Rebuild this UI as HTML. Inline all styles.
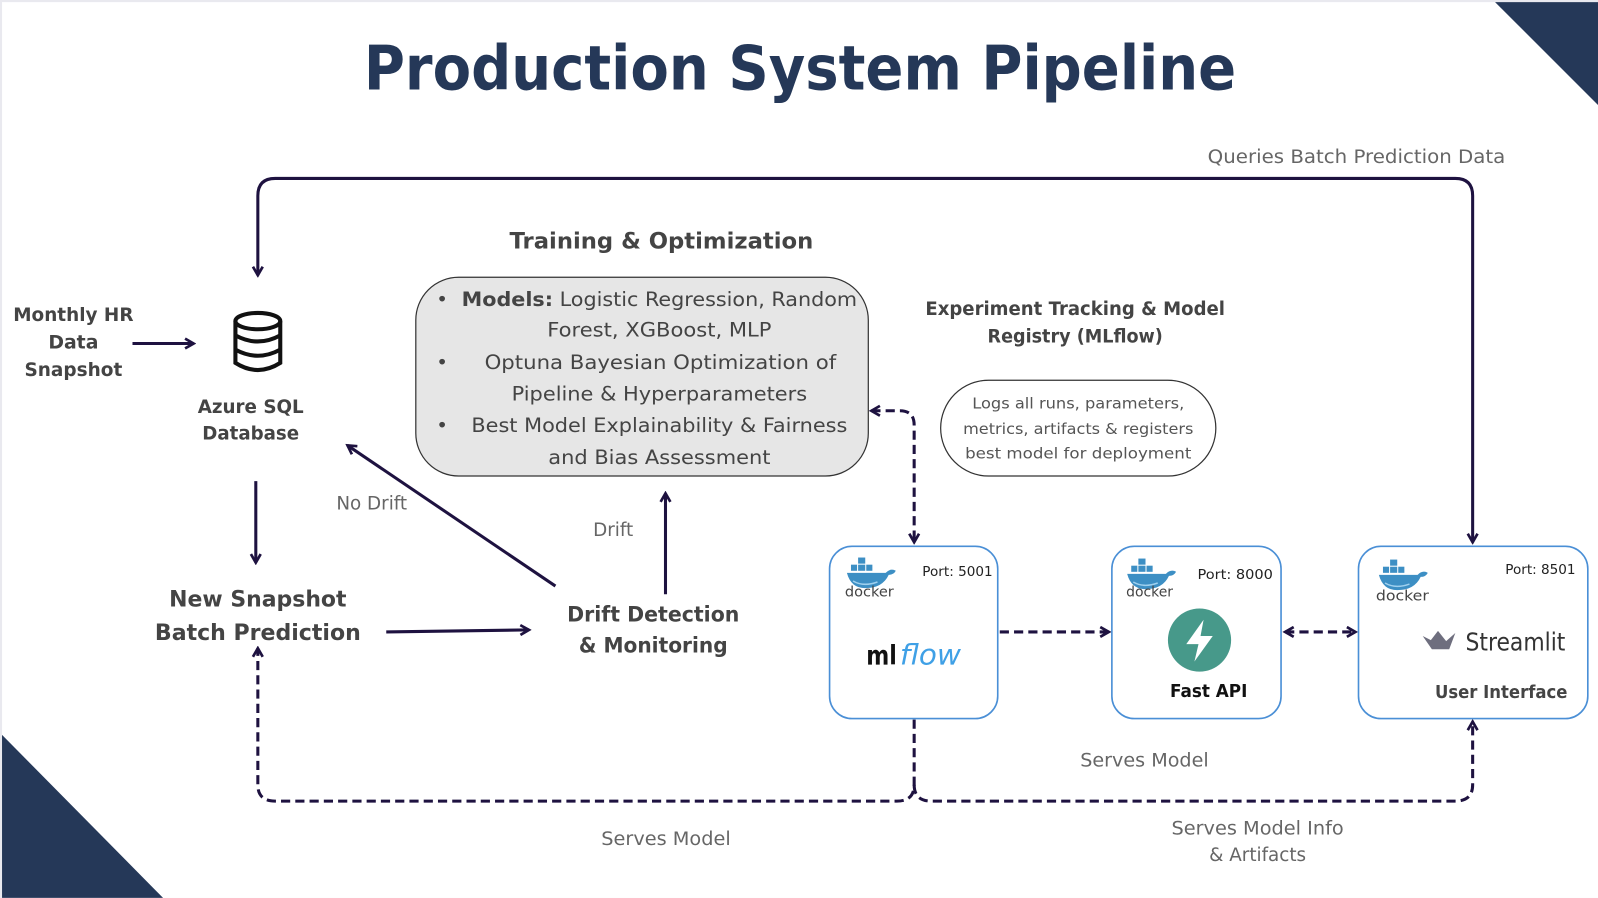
<!DOCTYPE html>
<html><head><meta charset="utf-8"><style>
html,body{margin:0;padding:0;background:#e9e9ef;}
svg{display:block;}
text{font-family:"DejaVu Sans","Liberation Sans",sans-serif;}
</style></head><body>
<svg width="1598" height="898" viewBox="0 0 1568 881" xmlns="http://www.w3.org/2000/svg">
<defs>
<marker id="a" viewBox="0 0 10 10" refX="8" refY="5" markerWidth="4" markerHeight="4" orient="auto-start-reverse">
<path d="M1,1 L8,5 L1,9" fill="none" stroke="#1e1240" stroke-width="2.2"/>
</marker>
<g id="dk">
<rect x="11" y="-2" width="7" height="6" fill="#3d8fc4"/>
<rect x="4" y="5" width="6" height="6" fill="#3d8fc4"/><rect x="11" y="5" width="7" height="6" fill="#3d8fc4"/><rect x="19" y="5" width="6" height="6" fill="#3d8fc4"/>
<path d="M0,13 H38 Q43,8 48,11 Q46,15 41,15 Q35,28 18,28 Q4,28 0,13 Z" fill="#3d8fc4"/>
<path d="M6,21 Q16,27 30,22" fill="none" stroke="#9fd0ee" stroke-width="1.5"/>
</g>
</defs>
<rect x="2" y="2" width="1566" height="879" fill="#fff"/>
<polygon points="1467,2 1568,2 1568,103" fill="#253858"/>
<polygon points="2,721 2,881 160,881" fill="#253858"/>

<text x="785" y="88" text-anchor="middle" font-size="60" font-weight="bold" fill="#253858" textLength="856" lengthAdjust="spacingAndGlyphs">Production System Pipeline</text>

<text x="1185" y="160" font-size="18" fill="#666" textLength="292" lengthAdjust="spacingAndGlyphs">Queries Batch Prediction Data</text>

<g fill="none" stroke="#1e1240" stroke-width="3">
<path d="M253,270 V192 Q253,175 270,175 H1428 Q1445,175 1445,192 V532" marker-start="url(#a)" marker-end="url(#a)"/>
<path d="M130,337 H190" marker-end="url(#a)"/>
<path d="M251,472 V552" marker-end="url(#a)"/>
<path d="M545,575 L341,437" marker-end="url(#a)"/>
<path d="M653,583 V484" marker-end="url(#a)"/>
<path d="M379,620 L519,618" marker-end="url(#a)"/>
</g>
<g fill="none" stroke="#1e1240" stroke-width="3" stroke-dasharray="9,5">
<path d="M855,403 H883 Q897,403 897,417 V532" marker-start="url(#a)" marker-end="url(#a)"/>
<path d="M981,620 H1088" marker-end="url(#a)"/>
<path d="M1261,620 H1330" marker-start="url(#a)" marker-end="url(#a)"/>
<path d="M897,706 V770 Q897,786 880,786 H270 Q253,786 253,770 V636" marker-end="url(#a)"/>
<path d="M897,770 Q897,786 914,786 H1428 Q1445,786 1445,770 V708" marker-end="url(#a)"/>
</g>

<text x="649" y="244" text-anchor="middle" font-size="22" font-weight="bold" fill="#444" textLength="298" lengthAdjust="spacingAndGlyphs">Training &amp; Optimization</text>
<rect x="408" y="272" width="444" height="195" rx="42" fill="#e6e6e6" stroke="#333" stroke-width="1.2"/>
<g font-size="19.5" fill="#444">
<text x="428" y="300">•</text><text x="428" y="362">•</text><text x="428" y="424">•</text>
<text x="453" y="300" textLength="388" lengthAdjust="spacingAndGlyphs"><tspan font-weight="bold">Models:</tspan> Logistic Regression, Random</text>
<text x="647" y="330" text-anchor="middle" textLength="220" lengthAdjust="spacingAndGlyphs">Forest, XGBoost, MLP</text>
<text x="648" y="362" text-anchor="middle" textLength="345" lengthAdjust="spacingAndGlyphs">Optuna Bayesian Optimization of</text>
<text x="647" y="393" text-anchor="middle" textLength="290" lengthAdjust="spacingAndGlyphs">Pipeline &amp; Hyperparameters</text>
<text x="647" y="424" text-anchor="middle" textLength="369" lengthAdjust="spacingAndGlyphs">Best Model Explainability &amp; Fairness</text>
<text x="647" y="455" text-anchor="middle" textLength="218" lengthAdjust="spacingAndGlyphs">and Bias Assessment</text>
</g>

<g font-size="18" font-weight="bold" fill="#444" text-anchor="middle">
<text x="1055" y="309" textLength="294" lengthAdjust="spacingAndGlyphs">Experiment Tracking &amp; Model</text>
<text x="1055" y="336" textLength="172" lengthAdjust="spacingAndGlyphs">Registry (MLflow)</text>
</g>
<rect x="923" y="373" width="270" height="94" rx="47" fill="#fff" stroke="#333" stroke-width="1.2"/>
<g font-size="15" fill="#555" text-anchor="middle">
<text x="1058" y="401" textLength="208" lengthAdjust="spacingAndGlyphs">Logs all runs, parameters,</text>
<text x="1058" y="426" textLength="226" lengthAdjust="spacingAndGlyphs">metrics, artifacts &amp; registers</text>
<text x="1058" y="450" textLength="222" lengthAdjust="spacingAndGlyphs">best model for deployment</text>
</g>

<g font-size="18.5" font-weight="bold" fill="#444" text-anchor="middle">
<text x="72" y="315" textLength="118" lengthAdjust="spacingAndGlyphs">Monthly HR</text>
<text x="72" y="342">Data</text>
<text x="72" y="369" textLength="96" lengthAdjust="spacingAndGlyphs">Snapshot</text>
<text x="246" y="405" textLength="104" lengthAdjust="spacingAndGlyphs">Azure SQL</text>
<text x="246" y="431" textLength="95" lengthAdjust="spacingAndGlyphs">Database</text>
</g>
<g fill="none" stroke="#111" stroke-width="4">
<ellipse cx="253" cy="315" rx="22" ry="8"/>
<path d="M231,315 V356 Q253,370 275,356 V315"/>
<path d="M231,329 Q253,341 275,329"/>
<path d="M231,343 Q253,355 275,343"/>
</g>

<g font-size="18" fill="#666">
<text x="330" y="500">No Drift</text>
<text x="582" y="526">Drift</text>
<text x="1060" y="752" textLength="126" lengthAdjust="spacingAndGlyphs">Serves Model</text>
<text x="590" y="829" textLength="127" lengthAdjust="spacingAndGlyphs">Serves Model</text>
<text x="1234" y="819" text-anchor="middle" textLength="169" lengthAdjust="spacingAndGlyphs">Serves Model Info</text>
<text x="1234" y="845" text-anchor="middle">&amp; Artifacts</text>
</g>

<g font-size="22" font-weight="bold" fill="#444" text-anchor="middle">
<text x="253" y="595" textLength="174" lengthAdjust="spacingAndGlyphs">New Snapshot</text>
<text x="253" y="628" textLength="202" lengthAdjust="spacingAndGlyphs">Batch Prediction</text>
</g>
<g font-size="20.5" font-weight="bold" fill="#444" text-anchor="middle">
<text x="641" y="610" textLength="169" lengthAdjust="spacingAndGlyphs">Drift Detection</text>
<text x="641" y="640" textLength="146" lengthAdjust="spacingAndGlyphs">&amp; Monitoring</text>
</g>

<g fill="#fff" stroke="#4a8fd6" stroke-width="1.6">
<rect x="814" y="536" width="165" height="169" rx="22"/>
<rect x="1091" y="536" width="166" height="169" rx="22"/>
<rect x="1333" y="536" width="225" height="169" rx="22"/>
</g>
<use href="#dk" x="831" y="549"/>
<use href="#dk" x="1106" y="550"/>
<use href="#dk" x="1353" y="551"/>
<g font-size="14" fill="#444">
<text x="829" y="585" textLength="48" lengthAdjust="spacingAndGlyphs">docker</text>
<text x="1105" y="585" textLength="46" lengthAdjust="spacingAndGlyphs">docker</text>
<text x="1350" y="589" textLength="52" lengthAdjust="spacingAndGlyphs">docker</text>
</g>
<g font-size="13" fill="#222">
<text x="905" y="565" textLength="69" lengthAdjust="spacingAndGlyphs">Port: 5001</text>
<text x="1175" y="568" textLength="74" lengthAdjust="spacingAndGlyphs">Port: 8000</text>
<text x="1477" y="563" textLength="69" lengthAdjust="spacingAndGlyphs">Port: 8501</text>
</g>
<text x="850" y="652" font-size="26" font-weight="bold" fill="#111" textLength="30" lengthAdjust="spacingAndGlyphs">ml</text>
<text x="883" y="652" font-size="28" font-style="italic" fill="#3fa0e6" textLength="60" lengthAdjust="spacingAndGlyphs">flow</text>

<circle cx="1177" cy="628" r="31" fill="#47998a"/>
<polygon points="1181,608 1164,632 1176,632 1172,649 1190,624 1178,624" fill="#fff"/>
<text x="1186" y="684" text-anchor="middle" font-size="17" font-weight="bold" fill="#111" textLength="76" lengthAdjust="spacingAndGlyphs">Fast API</text>

<polygon points="1396,624 1404,628 1411,619 1419,629 1428,621 1422,637 1405,637" fill="#6e6e7e"/>
<text x="1438" y="638" font-size="24" fill="#333" textLength="98" lengthAdjust="spacingAndGlyphs">Streamlit</text>
<text x="1473" y="685" text-anchor="middle" font-size="17" font-weight="bold" fill="#444" textLength="130" lengthAdjust="spacingAndGlyphs">User Interface</text>
</svg>
</body></html>
